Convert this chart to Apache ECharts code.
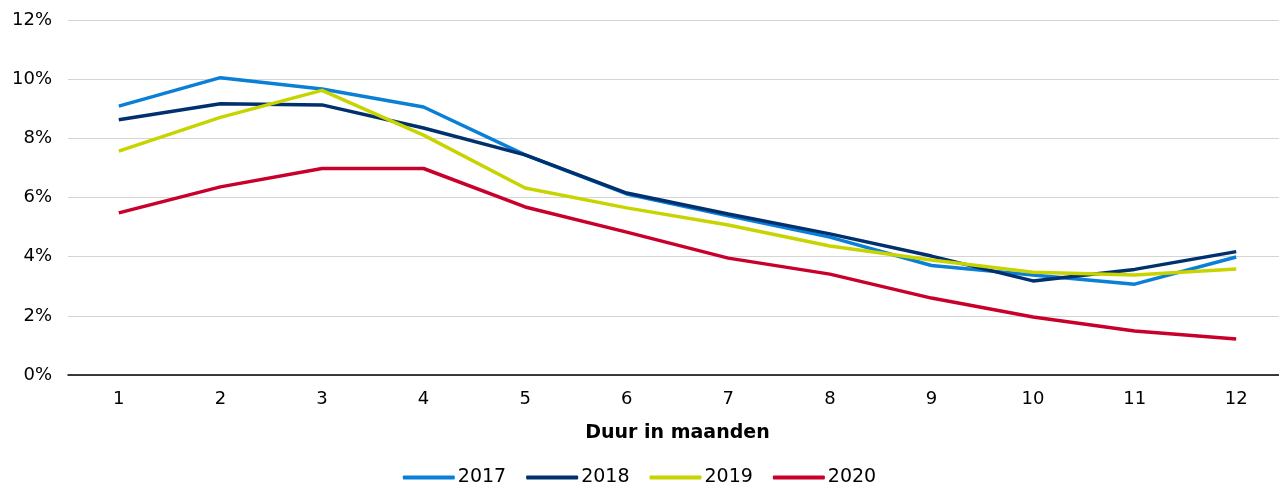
<!DOCTYPE html>
<html>
<head>
<meta charset="utf-8">
<script src="https://cdn.jsdelivr.net/npm/echarts@6/dist/echarts.min.js"></script>
<style>html,body{margin:0;padding:0;background:#fff}#c{width:1279px;height:486px}</style>
</head>
<body>
<div id="c"></div>
<script>
var categories = ['1','2','3','4','5','6','7','8','9','10','11','12'];
var s2017 = [9.09, 10.05, 9.67, 9.06, 7.44, 6.12, 5.38, 4.66, 3.70, 3.38, 3.07, 3.99];
var s2018 = [8.63, 9.17, 9.13, 8.35, 7.44, 6.15, 5.44, 4.77, 4.02, 3.18, 3.57, 4.17];
var s2019 = [7.57, 8.71, 9.62, 8.11, 6.32, 5.65, 5.07, 4.36, 3.89, 3.47, 3.38, 3.58];
var s2020 = [5.48, 6.36, 6.98, 6.98, 5.68, 4.83, 3.95, 3.41, 2.60, 1.96, 1.49, 1.22];
var seriesNames = ['2017','2018','2019','2020'];
var colors = ['#0a7fd6','#00306e','#c8d400','#c8002c'];
var yTicks = [0,2,4,6,8,10,12];

var font = 'DejaVu Sans, Verdana, sans-serif';
var data = [s2017, s2018, s2019, s2020];
var chart = echarts.init(document.getElementById('c'), null, {renderer:'canvas'});
chart.setOption({
  animation: false,
  color: colors,
  grid: {left: 68, width: 1219, top: 20, height: 355, containLabel: false, outerBoundsMode: 'none'},
  legend: {
    top: 463, left: 'center',
    itemWidth: 52, itemHeight: 4, itemGap: 20,
    textStyle: {fontFamily: font, fontSize: 19, color: '#000', padding: [0,0,0,-2]},
    icon: 'roundRect',
    data: seriesNames
  },
  xAxis: {
    type: 'category', data: categories, boundaryGap: true,
    axisLine: {lineStyle: {color: '#000', width: 1.5}},
    axisTick: {show: false},
    axisLabel: {fontFamily: font, fontSize: 18, color: '#000', margin: 15},
    name: 'Duur in maanden', nameLocation: 'middle', nameGap: 49,
    nameTextStyle: {fontFamily: font, fontSize: 19, fontWeight: 'bold', color: '#000'}
  },
  yAxis: {
    type: 'value', min: yTicks[0], max: yTicks[yTicks.length-1], interval: 2,
    axisLine: {show: false}, axisTick: {show: false},
    splitLine: {lineStyle: {color: '#d4d4d4', width: 1}},
    axisLabel: {fontFamily: font, fontSize: 18, color: '#000', margin: 16, formatter: '{value}%'}
  },
  series: data.map(function(d, i){
    return {name: seriesNames[i], type: 'line', data: d, symbol: 'none',
      lineStyle: {width: 3.5, color: colors[i]}, itemStyle: {color: colors[i]}};
  })
});
</script>
</body>
</html>
